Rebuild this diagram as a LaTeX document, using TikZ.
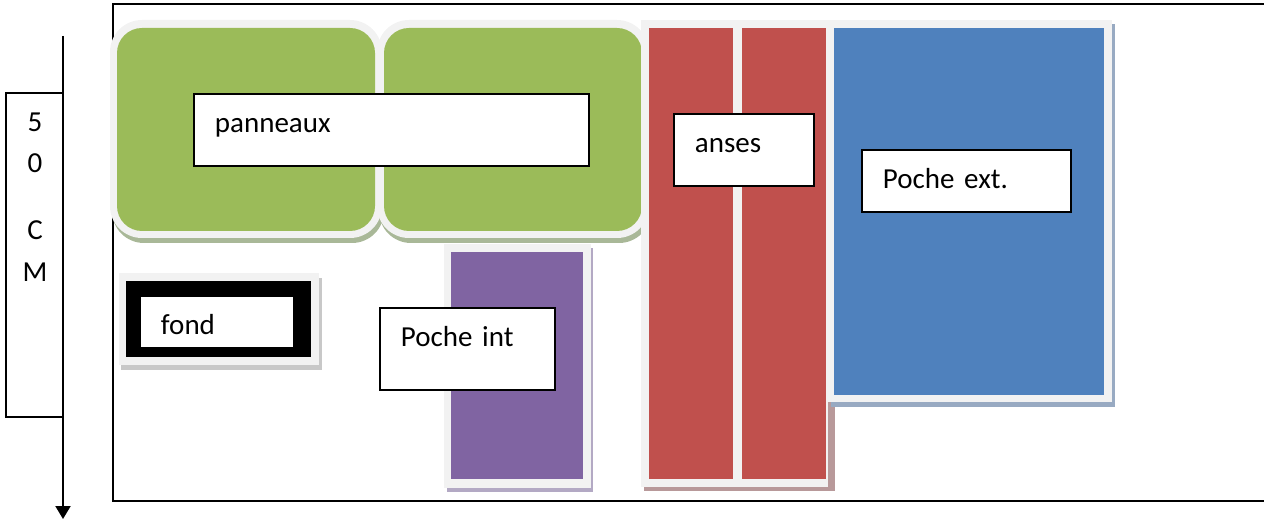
\documentclass[tikz,border=0pt]{standalone}
\usepackage{fontspec}
\setmainfont{Carlito}
\usetikzlibrary{arrows.meta}
\definecolor{vertPan}{HTML}{9BBB59}
\definecolor{ombreVert}{HTML}{A9B898}
\definecolor{rougeAnse}{HTML}{C0504D}
\definecolor{ombreRouge}{HTML}{B8999A}
\definecolor{bleuPoche}{HTML}{4F81BD}
\definecolor{ombreBleu}{HTML}{98AAC2}
\definecolor{violetPoche}{HTML}{8064A2}
\definecolor{ombreViolet}{HTML}{B3A9C4}
\definecolor{bordClair}{HTML}{F2F2F2}
\definecolor{ombreGris}{HTML}{C8C8C8}
\newcommand{\etiqfont}{\fontsize{16.5}{20}\selectfont}

\begin{document}
\begin{tikzpicture}[x=0.02cm, y=-0.02cm,
  etiq/.style={draw, fill=white, line width=1.1pt, anchor=north west, align=left,
    inner ysep=0pt, font=\etiqfont, text height=12pt},
  fleche/.style={line width=1.1pt, -{Triangle[width=0.3cm,length=0.26cm]}}]
  \useasboundingbox (0,0) rectangle (1264,519);
  % cadre et echelle
  \draw[line width=1.1pt] (113,4) rectangle (1275,501);
  \draw[line width=0.9pt] (6,93) rectangle (63,417);
  \foreach \c/\y in {5/132,0/173,C/240,M/282}
    \path node (cote\c) at (35,\y) [anchor=base, font=\etiqfont] {\c};
  \coordinate (haut) at (63,36);
  \coordinate (bas)  at (63,519);
  \draw[fleche] (haut) -- (bas);
  % panneaux
  \foreach \x in {0,267} {
    \fill[ombreVert, rounded corners=0.64cm] (112+\x,25) rectangle (384+\x,243);
    \fill[bordClair, rounded corners=0.64cm] (110+\x,20) rectangle (382+\x,238);
    \fill[vertPan, rounded corners=0.5cm] (117+\x,28) rectangle (375+\x,231);
  }
  % poche int
  \fill[ombreViolet] (447,248) rectangle (593,492);
  \fill[bordClair] (444,244) rectangle (591,488);
  \fill[violetPoche] (451,252) rectangle (583,479);
  % anses
  \fill[ombreRouge] (644,23) rectangle (835,491);
  \fill[bordClair] (641,20) rectangle (828,487);
  \foreach \x in {649,742}
    \fill[rougeAnse] (\x,28) rectangle (\x+84,479);
  % poche ext
  \fill[ombreBleu] (831,24) rectangle (1115,407);
  \fill[bordClair] (828,20) rectangle (1112,402);
  \fill[bleuPoche] (834,28) rectangle (1104,395);
  % fond
  \fill[ombreGris] (121,278) rectangle (322,370);
  \fill[bordClair] (119,273) rectangle (319,365);
  \fill (126,281) rectangle (311,357);
  % etiquettes
  \path node (panneaux) at (193,93)  [etiq, inner xsep=0.42cm, text width=7.06cm,
                                      minimum height=1.44cm, text depth=8.6pt] {panneaux}
        node (pocheInt) at (379,307) [etiq, inner xsep=0.42cm, text width=2.66cm,
                                      minimum height=1.64cm, text depth=14.3pt] {Poche int}
        node (anses)    at (673,113) [etiq, inner xsep=0.42cm, text width=1.96cm,
                                      minimum height=1.44cm, text depth=8.6pt] {anses}
        node (pocheExt) at (861,149) [etiq, inner xsep=0.42cm, text width=3.34cm,
                                      minimum height=1.24cm, text depth=3pt] {Poche ext.}
        node (fond)     at (140,296) [etiq, draw=none, inner xsep=0.4cm, text width=2.24cm,
                                      minimum height=1cm, text height=16pt, text depth=1.3pt] {fond};
\end{tikzpicture}
\end{document}
